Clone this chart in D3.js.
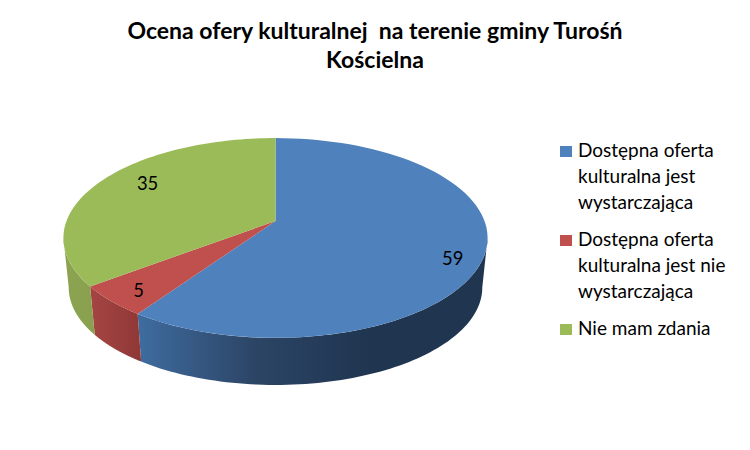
<!DOCTYPE html>
<html lang="pl">
<head>
<meta charset="UTF-8">
<title>Ocena oferty kulturalnej</title>
<script src="https://d3js.org/d3.v7.min.js"></script>
<style>
  body { margin: 0; background: #fff; }
  svg { display: block; font-family: Lato, "Open Sans", sans-serif; }
  .title { font-size: 23px; font-weight: 700; white-space: pre; text-anchor: middle; fill: #000; }
  .legend { font-size: 19px; fill: #000; }
  .label { font-size: 18.4px; fill: #000; text-anchor: middle; }
</style>
</head>
<body>
<svg id="chart" width="750" height="450"></svg>
<script>
const categories = ["Dostępna oferta kulturalna jest wystarczająca", "Dostępna oferta kulturalna jest nie wystarczająca", "Nie mam zdania"];
const values = [59, 5, 35];
const titleLines = ["Ocena ofery kulturalnej  na terenie gminy Turośń", "Kościelna"];
const legendLines = [["Dostępna oferta", "kulturalna jest", "wystarczająca"], ["Dostępna oferta", "kulturalna jest nie", "wystarczająca"], ["Nie mam zdania"]];
const topColors = ["#4f81bd", "#c0504d", "#9bbb59"];
// side wall shades, left to right
const sideColors = [
  ["#3f6c9f", "#2c4566", "#1f3550", "#1f3550"],
  ["#a54543", "#8f3836"],
  ["#8ca350", "#89a04f"]
];

const svg = d3.select("#chart");

// pie is drawn in perspective: disk coords go through a projective map
const cx = 275.5, topY = 221, baseY = 271;
const R = 209, B = 97, persp = 0.17, baseScale = 0.975;

function project(theta, r, y0, s) {
  const u = r * Math.sin(theta), v = -r * Math.cos(theta);
  const w = 1 - persp * v;
  return [cx + s * R * u / w, y0 + s * B * v / w];
}

const arcs = d3.pie().sort(null).startAngle(0).endAngle(2 * Math.PI)(values);
const line = d3.line();

function rim(a0, a1, y0, s) {
  return d3.range(0, 81).map(i => project(a0 + (a1 - a0) * i / 80, 1, y0, s));
}

const defs = svg.append("defs");

// the wall shows between the left and right extremes of the projected rim
const edgeAngle = Math.acos(-persp);

arcs.forEach((d, i) => {
  const a0 = Math.max(d.startAngle, edgeAngle);
  const a1 = Math.min(d.endAngle, 2 * Math.PI - edgeAngle);
  if (a1 <= a0) return;
  const top = rim(a0, a1, topY, 1);
  const bottom = rim(a0, a1, baseY, baseScale);
  const xs = top.concat(bottom).map(p => p[0]);
  const grad = defs.append("linearGradient")
    .attr("id", "side" + i)
    .attr("gradientUnits", "userSpaceOnUse")
    .attr("x1", d3.min(xs)).attr("x2", d3.max(xs))
    .attr("y1", 0).attr("y2", 0);
  sideColors[i].forEach((c, k) => {
    grad.append("stop").attr("offset", k / (sideColors[i].length - 1)).attr("stop-color", c);
  });
  svg.append("path")
    .attr("d", line(top.concat(bottom.reverse())) + "Z")
    .attr("fill", "url(#side" + i + ")");
});

arcs.forEach((d, i) => {
  const pts = [[cx, topY]].concat(rim(d.startAngle, d.endAngle, topY, 1));
  svg.append("path")
    .attr("d", line(pts) + "Z")
    .attr("fill", topColors[i]);
});

// data labels sit along the middle of each slice
const labelPlace = [{ r: 0.85, dy: 18 }, { r: 0.85, dy: 9 }, { r: 0.72, dy: -2 }];
arcs.forEach((d, i) => {
  const p = project((d.startAngle + d.endAngle) / 2, labelPlace[i].r, topY, 1);
  svg.append("text").attr("class", "label")
    .attr("x", p[0]).attr("y", p[1] + labelPlace[i].dy)
    .text(values[i]);
});

svg.selectAll(".title").data(titleLines).join("text")
  .attr("class", "title")
  .attr("x", 375)
  .attr("y", (d, i) => 39 + i * 29)
  .text(d => d);

let y = 157;
legendLines.forEach((lines, i) => {
  svg.append("rect").attr("x", 560).attr("y", y - 11).attr("width", 12).attr("height", 11).attr("fill", topColors[i]);
  lines.forEach((t, k) => {
    svg.append("text").attr("class", "legend").attr("x", 578).attr("y", y + k * 26).text(t);
  });
  y += lines.length * 26 + 11;
});
</script>
</body>
</html>
